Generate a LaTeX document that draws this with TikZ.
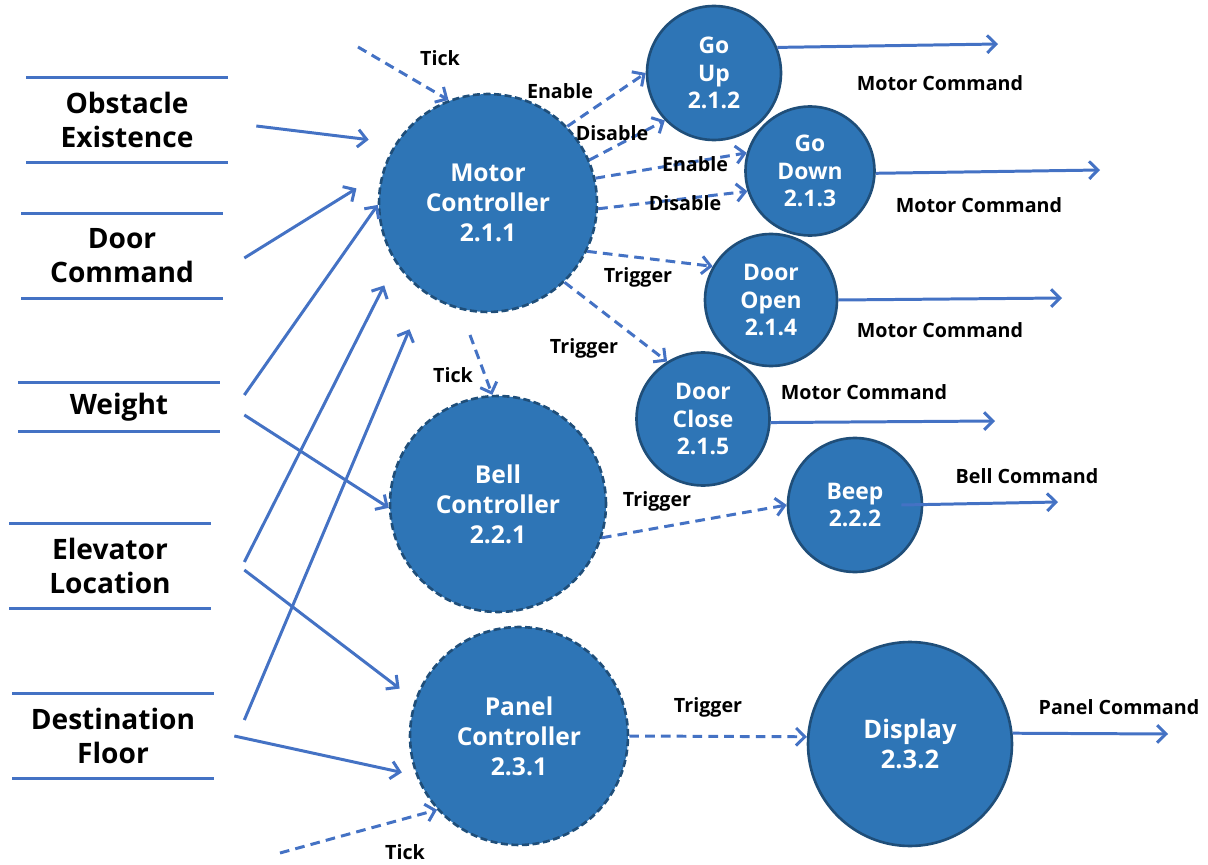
\documentclass[tikz,border=0pt]{standalone}
\usepackage{fontspec}
\setmainfont{Open Sans}
\usepackage{xcolor}
\usepackage{tikz}
\usetikzlibrary{positioning}
\usetikzlibrary{arrows.meta}

\definecolor{procfill}{HTML}{2E75B6}
\definecolor{procline}{HTML}{1F4E79}
\definecolor{flowblue}{HTML}{4472C4}

\begin{document}
\begin{tikzpicture}[
          x=0.02cm, y=-0.02cm,
          bignode/.style={draw=procline,line width=1.5pt,dash pattern=on 4pt off 2pt,fill=procfill,circle,
            minimum size=4.36cm,align=center,text=white,font=\fontsize{14}{17}\selectfont\bfseries},
          smallnode/.style={draw=procline,line width=1.5pt,fill=procfill,circle,
            minimum size=2.66cm,align=center,text=white,font=\fontsize{13}{15.5}\selectfont\bfseries},
          storenode/.style={minimum width=4.02cm,minimum height=1.7cm,align=center,font=\fontsize{16}{19.3}\selectfont\bfseries},
          storeline/.style={flowblue,line width=1.8pt},
          flow/.style={flowblue,line width=1.7pt,-{Straight Barb[length=5pt,width=10pt]}},
          ctlflow/.style={flow,dash pattern=on 5.5pt off 3.5pt},
          lbl/.style={font=\fontsize{11.2}{13}\selectfont\bfseries}
          ]
          \useasboundingbox (0,0) rectangle (1208,865);

          % processes
          \node[bignode] (motor) at (488,203) {Motor\\Controller\\2.1.1};
          \node[smallnode,minimum size=2.68cm] (goup) at (714,73) {Go\\Up\\2.1.2};
          \node[smallnode,minimum size=2.58cm] (godown) at (810,171) {Go\\Down\\2.1.3};
          \node[smallnode,minimum size=2.64cm] (dooropen) at (771,300) {Door\\Open\\2.1.4};
          \node[smallnode] (doorclose) at (703,419) {Door\\Close\\2.1.5};
          \node[bignode,minimum size=4.32cm] (bell) at (498,504) {Bell\\Controller\\2.2.1};
          \node[smallnode,minimum size=2.68cm] (beep) at (855,505) {Beep\\2.2.2};
          \node[bignode] (panel) at (519,736) {Panel\\Controller\\2.3.1};
          \node[smallnode,minimum size=4.08cm,font=\fontsize{14.5}{17}\selectfont\bfseries] (display) at (910,744) {Display\\2.3.2};

          % data stores
          \node[storenode] (obst) at (127,120) {Obstacle\\Existence};
          \node[storenode] (doorcmd) at (122,256) {Door\\Command};
          \node[storenode,minimum height=0.98cm] (weight) at (119,407) {Weight};
          \node[storenode] (elev) at (110,566) {Elevator\\Location};
          \node[storenode] (dest) at (113,736) {Destination\\Floor};
          \foreach \s in {obst,doorcmd,weight,elev,dest}
            \draw[storeline] (\s.north west) -- (\s.north east) (\s.south west) -- (\s.south east);

          % free ends
          \coordinate (tickA) at (358,47);
          \coordinate (tickB) at (470,335);
          \coordinate (tickC) at (280,853);
          \coordinate (outA) at (998,44);
          \coordinate (outB) at (1100,170);
          \coordinate (outC) at (1062,298);
          \coordinate (outD) at (995,421);
          \coordinate (outE) at (1058,502);
          \coordinate (outF) at (1168,734);

          % data flows
          \path ([xshift=0.57cm,yshift=-0.12cm]obst.east) edge[flow,shorten >=0.54cm] (motor.147)
          ([xshift=0.43cm,yshift=-0.04cm]doorcmd.east) edge[flow,shorten >=0.6cm] (motor.164)
          ([xshift=0.49cm,yshift=0.24cm]weight.east) edge[flow] (motor.181)
          ([xshift=0.49cm,yshift=-0.16cm]weight.east) edge[flow] (bell.182)
          ([xshift=0.67cm,yshift=0.08cm]elev.east) edge[flow,shorten >=0.5cm] (motor.213)
          ([xshift=0.67cm,yshift=-0.08cm]elev.east) edge[flow,shorten >=0.38cm] (panel.161)
          ([xshift=0.61cm,yshift=0.32cm]dest.east) edge[flow,shorten >=0.78cm] (motor.235)
          ([xshift=0.41cm]dest.east) edge[flow,shorten >=0.29cm] (panel.201)
          ;

          % control flows
          \path (tickA) edge[ctlflow] (motor.111)
          (tickB) edge[ctlflow] (bell.93)
          (tickC) edge[ctlflow] (panel.222)
          (motor.44) edge[ctlflow] (goup.180)
          (motor.23) edge[ctlflow] (goup.224)
          (motor.13) edge[ctlflow] (godown.164)
          (motor.-3) edge[ctlflow] (godown.198)
          (motor.-26) edge[ctlflow] (dooropen.150)
          (motor.-46) edge[ctlflow] (doorclose.122)
          (bell.-18) edge[ctlflow] (beep.180)
          (panel.0) edge[ctlflow] (display.176)
          ;

          % outputs
          \path (goup.22) edge[flow] (outA)
          (godown.-2) edge[flow] (outB)
          (dooropen.0) edge[flow] (outC)
          (doorclose.-3) edge[flow] (outD)
          ([xshift=-0.44cm]beep.east) edge[flow] (outE)
          (display.6) edge[flow] (outF)
          ;

          % labels
          \node[lbl] (lbltickA) at (440,58) {Tick};
          \node[lbl] (lblenA) at (560,91) {Enable};
          \node[lbl] (lbldisA) at (612,133) {Disable};
          \node[lbl] (lblenB) at (695,164) {Enable};
          \node[lbl] (lbldisB) at (685,203) {Disable};
          \node[lbl] (lbltrigA) at (638,277) {Trigger};
          \node[lbl] (lbltrigB) at (584,348) {Trigger};
          \node[lbl] (lbltickB) at (453,375) {Tick};
          \node[lbl] (lblcmdA) at (940,83) {Motor Command};
          \node[lbl] (lblcmdB) at (979,205) {Motor Command};
          \node[lbl] (lblcmdC) at (940,330) {Motor Command};
          \node[lbl] (lblcmdD) at (864,392) {Motor Command};
          \node[lbl] (lblbell) at (1027,476) {Bell Command};
          \node[lbl] (lbltrigC) at (657,501) {Trigger};
          \node[lbl] (lbltrigD) at (708,707) {Trigger};
          \node[lbl] (lblpanel) at (1119,707) {Panel Command};
          \node[lbl] (lbltickC) at (405,852) {Tick};
        \end{tikzpicture}
\end{document}
